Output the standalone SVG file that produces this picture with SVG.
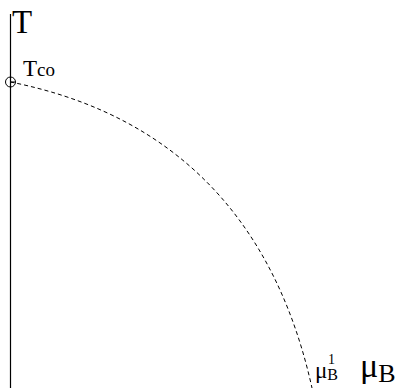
<svg xmlns="http://www.w3.org/2000/svg" width="399" height="388" viewBox="0 0 399 388">
<style>
.t{font-family:"Liberation Serif","DejaVu Serif",serif;fill:#000}
.ax{stroke:#000;stroke-width:1.2;fill:none}
.dash{stroke:#000;stroke-width:1;fill:none;stroke-dasharray:4 3}
</style>
<rect width="399" height="388" fill="#fff"/>
<g id="connectors">
<line class="ax" x1="10.5" y1="14" x2="10.5" y2="388"/>
<path class="dash" d="M10.5,82 C110,102 262,162 312,388"/>
</g>
<g id="axis-T"><text class="t" x="12" y="33" font-size="33">T</text></g>
<g id="Tco">
<circle cx="10.5" cy="82" r="5" fill="none" stroke="#000" stroke-width="1"/>
<line x1="10.5" y1="82" x2="15.5" y2="82" stroke="#000" stroke-width="1"/>
<text class="t" x="23" y="76" font-size="23">T<tspan font-size="19">co</tspan></text>
</g>
<g id="muB1"><text class="t" x="315" y="378" font-size="23">μ<tspan font-size="16" dy="2">B</tspan><tspan font-size="14" dx="-10" dy="-16">1</tspan></text></g>
<g id="axis-muB"><text class="t" x="360" y="377" font-size="34">μ<tspan font-size="26" dy="5">B</tspan></text></g>
</svg>
